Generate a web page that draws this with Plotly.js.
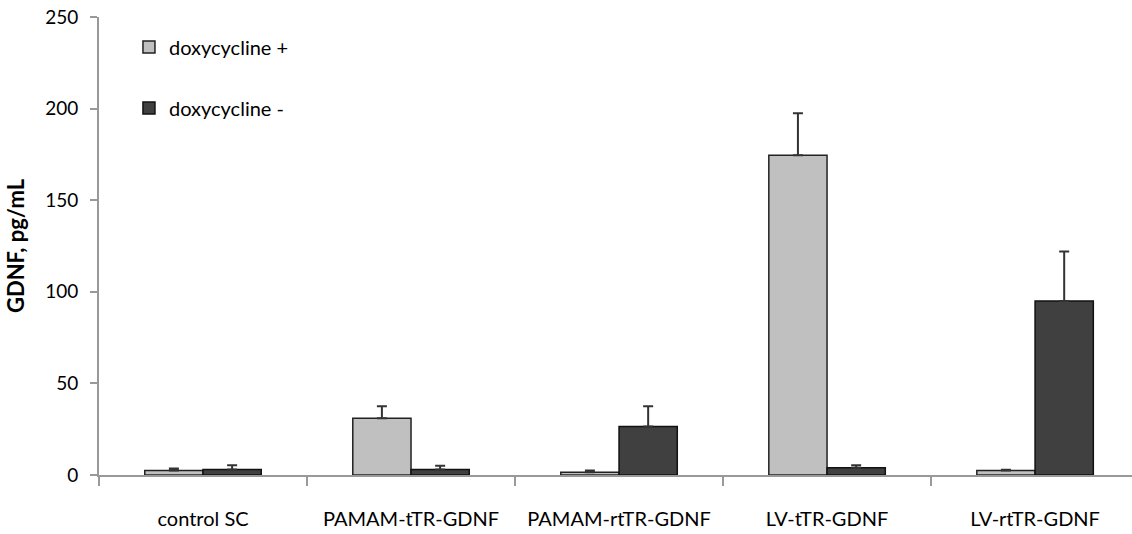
<!DOCTYPE html>
<html>
<head>
<meta charset="utf-8">
<script src="https://cdn.plot.ly/plotly-3.0.1.min.js"></script>
<style>html,body{margin:0;padding:0;background:#fff;}#chart{width:1132px;height:534px;}</style>
</head>
<body>
<div id="chart"></div>
<script>
const categories = ["control SC", "PAMAM-tTR-GDNF", "PAMAM-rtTR-GDNF", "LV-tTR-GDNF", "LV-rtTR-GDNF"];
const doxPlus = [2.5, 31, 1.5, 174.5, 2.5];
const doxPlusErr = [1, 6.5, 1, 23, 0.3];
const doxMinus = [3, 3, 26.5, 4, 95];
const doxMinusErr = [2.3, 2, 11, 1.3, 27];
const seriesNames = ["doxycycline +", "doxycycline -"];
const yTicks = [0, 50, 100, 150, 200, 250];

const FONT = "Lato, 'Open Sans', sans-serif";
const errStyle = {type: "data", symmetric: false, color: "#333", thickness: 2, width: 5};

const traces = [
  {type: "bar", name: seriesNames[0], x: categories, y: doxPlus, legendgroup: "a",
   marker: {color: "#c0c0c0", line: {color: "#222", width: 1.5}},
   error_y: Object.assign({array: doxPlusErr, arrayminus: doxPlus.map(() => 0)}, errStyle)},
  {type: "bar", name: seriesNames[1], x: categories, y: doxMinus, legendgroup: "b",
   marker: {color: "#404040", line: {color: "#111", width: 1.5}},
   error_y: Object.assign({array: doxMinusErr, arrayminus: doxMinus.map(() => 0)}, errStyle)}
];

const layout = {
  width: 1132, height: 534,
  margin: {l: 99, r: 0, t: 17, b: 59},
  paper_bgcolor: "#fff", plot_bgcolor: "#fff",
  font: {family: FONT, size: 20, color: "#000"},
  barmode: "group", bargap: 0.44, bargroupgap: 0,
  showlegend: true,
  legend: {x: 0.029, y: 0.977, xanchor: "left", yanchor: "top", traceorder: "grouped",
           tracegroupgap: 32, bgcolor: "rgba(0,0,0,0)", font: {family: FONT, size: 20, color: "#000"}},
  xaxis: {type: "category", range: [-0.5, 4.466], tickson: "boundaries", ticks: "outside",
          ticklen: 9, tickwidth: 2, tickcolor: "#999", showline: true, linecolor: "#999", linewidth: 2,
          showgrid: false, zeroline: false, ticklabelstandoff: 25,
          tickfont: {family: FONT, size: 20, color: "#000"}},
  yaxis: {range: [0, 250], tickvals: yTicks, ticks: "outside", ticklen: 7, tickwidth: 2, tickcolor: "#999",
          showline: true, linecolor: "#999", linewidth: 2, showgrid: false, zeroline: false,
          ticklabelstandoff: 8, tickfont: {family: FONT, size: 19, color: "#000"},
          title: {text: "<b>GDNF, pg/mL</b>", standoff: 14, font: {family: FONT, size: 22, color: "#000"}}}
};

Plotly.newPlot("chart", traces, layout, {displayModeBar: false, staticPlot: true});
</script>
</body>
</html>
